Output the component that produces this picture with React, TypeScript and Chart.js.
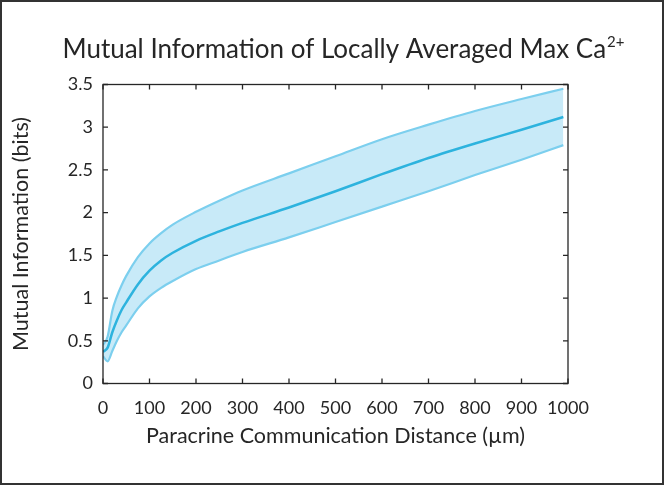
import React, { useEffect, useRef } from "react";
import { Chart, registerables } from "chart.js";

Chart.register(...registerables);

const distances = [0, 10, 20, 30, 40, 50, 75, 100, 125, 150, 200, 250, 300, 400, 500, 600, 700, 800, 900, 990];
const meanMI = [0.37, 0.42, 0.6, 0.74, 0.86, 0.95, 1.16, 1.32, 1.44, 1.53, 1.67, 1.78, 1.88, 2.06, 2.25, 2.45, 2.64, 2.81, 2.97, 3.12];
const upperMI = [0.45, 0.55, 0.85, 1.02, 1.15, 1.26, 1.48, 1.64, 1.76, 1.86, 2.01, 2.14, 2.26, 2.46, 2.66, 2.86, 3.03, 3.19, 3.33, 3.45];
const lowerMI = [0.32, 0.26, 0.38, 0.5, 0.6, 0.68, 0.88, 1.02, 1.12, 1.2, 1.34, 1.44, 1.54, 1.71, 1.89, 2.07, 2.25, 2.44, 2.62, 2.79];
const xTicks = [0, 100, 200, 300, 400, 500, 600, 700, 800, 900, 1000];
const yTicks = [0, 0.5, 1, 1.5, 2, 2.5, 3, 3.5];

const TITLE_MAIN = "Mutual Information of Locally Averaged Max Ca";
const TITLE_SUP = "2+";
const X_TITLE = "Paracrine Communication Distance (µm)";
const Y_TITLE = "Mutual Information (bits)";

const FONT = "Lato, 'Open Sans', sans-serif";
const TEXT = "#262626";

export default function App() {
  const ref = useRef<HTMLCanvasElement | null>(null);

  useEffect(() => {
    if (!ref.current) return;
    const pts = (ys: number[]) => distances.map((x, i) => ({ x, y: ys[i] }));

    const framePlugin = {
      id: "frame",
      afterDraw(chart: any) {
        const { ctx, chartArea: a, scales } = chart;
        const xs = scales.x;
        const ys = scales.y;
        ctx.save();
        ctx.strokeStyle = TEXT;
        ctx.lineWidth = 1.3;
        ctx.strokeRect(a.left, a.top, a.right - a.left, a.bottom - a.top);
        const tl = 5;
        ctx.beginPath();
        xTicks.forEach((v) => {
          const px = xs.getPixelForValue(v);
          ctx.moveTo(px, a.bottom);
          ctx.lineTo(px, a.bottom - tl);
          ctx.moveTo(px, a.top);
          ctx.lineTo(px, a.top + tl);
        });
        yTicks.forEach((v) => {
          const py = ys.getPixelForValue(v);
          ctx.moveTo(a.left, py);
          ctx.lineTo(a.left + tl, py);
          ctx.moveTo(a.right, py);
          ctx.lineTo(a.right - tl, py);
        });
        ctx.stroke();
        // outer figure frame
        ctx.strokeStyle = "#333";
        ctx.lineWidth = 2;
        ctx.strokeRect(1, 1, chart.width - 2, chart.height - 2);
        // title with superscript
        ctx.fillStyle = TEXT;
        ctx.textAlign = "left";
        ctx.textBaseline = "alphabetic";
        ctx.font = `26px ${FONT}`;
        const w1 = ctx.measureText(TITLE_MAIN).width;
        ctx.font = `15px ${FONT}`;
        const w2 = ctx.measureText(TITLE_SUP).width;
        const x0 = 343.5 - (w1 + w2 + 1) / 2;
        ctx.font = `26px ${FONT}`;
        ctx.fillText(TITLE_MAIN, x0, 58);
        ctx.font = `15px ${FONT}`;
        ctx.fillText(TITLE_SUP, x0 + w1 + 1, 47);
        ctx.restore();
      },
    };

    const chart = new Chart(ref.current, {
      type: "line",
      data: {
        datasets: [
          {
            label: "lower",
            data: pts(lowerMI),
            borderColor: "#7ccfee",
            borderWidth: 2.2,
            pointRadius: 0,
            fill: false,
            order: 2,
            cubicInterpolationMode: "monotone",
          },
          {
            label: "upper",
            data: pts(upperMI),
            borderColor: "#7ccfee",
            borderWidth: 2.2,
            pointRadius: 0,
            backgroundColor: "#c8eaf8",
            fill: "-1",
            order: 1,
            cubicInterpolationMode: "monotone",
          },
          {
            label: "mean",
            data: pts(meanMI),
            borderColor: "#2db3de",
            borderWidth: 2.5,
            pointRadius: 0,
            fill: false,
            order: 0,
            cubicInterpolationMode: "monotone",
          },
        ],
      },
      options: {
        animation: false,
        responsive: false,
        maintainAspectRatio: false,
        layout: { padding: { left: 4, top: 84.5, right: 96, bottom: 36.5 } },
        plugins: {
          legend: { display: false },
          title: { display: false },
          tooltip: { enabled: false },
          filler: { drawTime: "beforeDatasetsDraw" },
        },
        scales: {
          x: {
            type: "linear",
            min: 0,
            max: 1000,
            grid: { display: false, drawTicks: false },
            border: { display: false },
            afterBuildTicks: (s: any) => {
              s.ticks = xTicks.map((v) => ({ value: v }));
            },
            ticks: {
              color: TEXT,
              font: { family: FONT, size: 18 },
              padding: 14,
              maxRotation: 0,
              autoSkip: false,
              callback: (v: any) => String(v),
            },
            title: {
              display: true,
              text: X_TITLE,
              color: TEXT,
              font: { family: FONT, size: 21.5 },
              padding: { top: 0, bottom: 0 },
            },
            afterFit: (s: any) => {
              s.height = 65;
              s.paddingLeft = 0;
              s.paddingRight = 0;
            },
          },
          y: {
            type: "linear",
            min: 0,
            max: 3.5,
            grid: { display: false, drawTicks: false },
            border: { display: false },
            afterBuildTicks: (s: any) => {
              s.ticks = yTicks.map((v) => ({ value: v }));
            },
            ticks: {
              color: TEXT,
              font: { family: FONT, size: 18 },
              padding: 10,
              autoSkip: false,
              callback: (v: any) => String(v),
            },
            title: {
              display: true,
              text: Y_TITLE,
              color: TEXT,
              font: { family: FONT, size: 21.5 },
              padding: { top: 4, bottom: 0 },
            },
            afterFit: (s: any) => {
              s.width = 99;
              s.paddingTop = 0;
              s.paddingBottom = 0;
            },
          },
        },
      },
      plugins: [framePlugin],
    });
    return () => chart.destroy();
  }, []);

  return (
    <div style={{ position: "fixed", left: 0, top: 0, width: 664, height: 485, background: "#fff" }}>
      <canvas ref={ref} width={664} height={485} style={{ width: 664, height: 485 }} />
    </div>
  );
}
